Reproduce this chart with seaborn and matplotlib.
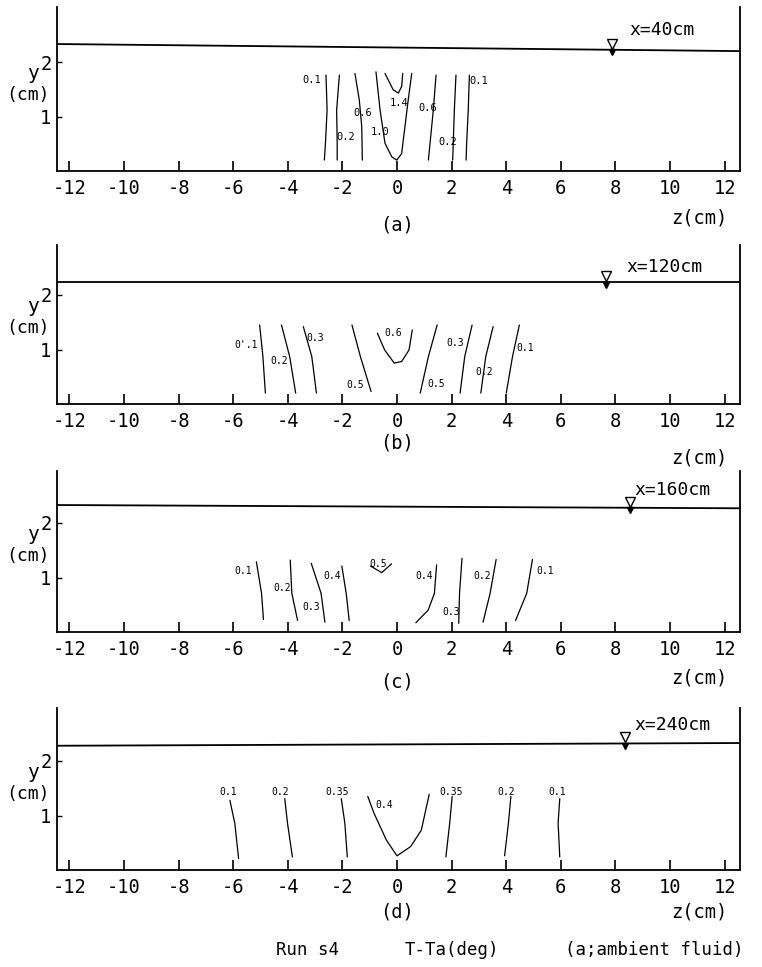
import numpy as np
import pandas as pd
import matplotlib
matplotlib.use("Agg")
import matplotlib.pyplot as plt
import seaborn as sns

# panel info
panel_tags = ["(a)", "(b)", "(c)", "(d)"]
station_labels = ["x=40cm", "x=120cm", "x=160cm", "x=240cm"]
station_pos = [(8.5, 2.59), (8.4, 2.51), (8.7, 2.60), (8.7, 2.66)]
marker_z = [7.88, 7.66, 8.53, 8.35]
surface_left = [2.33, 2.24, 2.33, 2.28]
surface_right = [2.20, 2.24, 2.27, 2.33]
z_ticks = list(range(-12, 13, 2))
y_ticks = [1, 2]

# contour polylines: (label, z points, y points)
contours_a = [
    ("0.1", [-2.60, -2.56, -2.62, -2.66], [1.76, 1.12, 0.51, 0.20]),
    ("0.2", [-2.11, -2.21, -2.19, -2.19], [1.76, 1.12, 0.51, 0.20]),
    ("0.6", [-1.54, -1.38, -1.29, -1.27], [1.79, 1.30, 0.81, 0.20]),
    ("1.0", [-0.77, -0.62, -0.44, -0.19, -0.01, 0.17, 0.29, 0.41, 0.54],
            [1.82, 1.12, 0.51, 0.26, 0.20, 0.32, 0.81, 1.30, 1.79]),
    ("1.4", [-0.44, -0.14, 0.05, 0.17, 0.21], [1.79, 1.49, 1.43, 1.55, 1.79]),
    ("0.6r", [1.43, 1.33, 1.21, 1.15], [1.76, 1.12, 0.51, 0.20]),
    ("0.2r", [2.16, 2.10, 2.06, 2.04], [1.76, 1.12, 0.51, 0.20]),
    ("0.1r", [2.65, 2.61, 2.55, 2.53], [1.76, 1.12, 0.51, 0.20]),
]
labels_a = [("0.1", -3.12, 1.67), ("0.2", -1.88, 0.63), ("0.6", -1.24, 1.06),
            ("1.0", -0.62, 0.72), ("1.4", 0.08, 1.25), ("0.6", 1.14, 1.15),
            ("0.2", 1.87, 0.54), ("0.1", 3.00, 1.66)]

contours_b = [
    ("0.1", [-5.03, -4.91, -4.82], [1.45, 0.87, 0.20]),
    ("0.2", [-4.23, -3.93, -3.71], [1.45, 0.87, 0.20]),
    ("0.3", [-3.43, -3.12, -2.95], [1.42, 0.87, 0.20]),
    ("0.5", [-1.65, -1.34, -0.95], [1.45, 0.87, 0.23]),
    ("0.6", [-0.72, -0.45, -0.10, 0.17, 0.44, 0.56], [1.30, 0.99, 0.75, 0.78, 0.99, 1.36]),
    ("0.5r", [1.47, 1.15, 0.85], [1.45, 0.87, 0.20]),
    ("0.3r", [2.75, 2.48, 2.31], [1.45, 0.87, 0.20]),
    ("0.2r", [3.52, 3.25, 3.07], [1.42, 0.87, 0.20]),
    ("0.1r", [4.48, 4.23, 4.00], [1.45, 0.87, 0.20]),
]
labels_b = [("0'.1", -5.53, 1.08), ("0.2", -4.32, 0.78), ("0.3", -3.00, 1.21),
            ("0.5", -1.52, 0.35), ("0.6", -0.15, 1.30), ("0.5", 1.42, 0.37),
            ("0.3", 2.12, 1.12), ("0.2", 3.19, 0.59), ("0.1", 4.71, 1.02)]

contours_c = [
    ("0.1", [-5.15, -4.96, -4.89], [1.29, 0.71, 0.23]),
    ("0.2", [-3.91, -3.85, -3.64], [1.32, 0.71, 0.21]),
    ("0.3", [-3.14, -2.78, -2.64], [1.26, 0.71, 0.18]),
    ("0.4", [-2.02, -1.86, -1.75], [1.21, 0.71, 0.21]),
    ("0.5", [-0.97, -0.56, -0.20], [1.21, 1.09, 1.25]),
    ("0.4r", [1.45, 1.37, 1.14, 0.69], [1.23, 0.71, 0.40, 0.17]),
    ("0.3r", [2.38, 2.29, 2.26], [1.35, 0.71, 0.16]),
    ("0.2r", [3.63, 3.41, 3.15], [1.33, 0.71, 0.18]),
    ("0.1r", [4.96, 4.75, 4.34], [1.33, 0.71, 0.21]),
]
labels_c = [("0.1", -5.64, 1.12), ("0.2", -4.21, 0.80), ("0.3", -3.15, 0.46),
            ("0.4", -2.38, 1.03), ("0.5", -0.70, 1.25), ("0.4", 1.00, 1.03),
            ("0.3", 1.98, 0.37), ("0.2", 3.13, 1.02), ("0.1", 5.44, 1.12)]

contours_d = [
    ("0.1", [-6.12, -5.94, -5.80], [1.28, 0.86, 0.21]),
    ("0.2", [-4.11, -4.01, -3.83], [1.31, 0.86, 0.24]),
    ("0.35", [-2.04, -1.91, -1.82], [1.31, 0.86, 0.24]),
    ("0.4", [-1.07, -0.84, -0.39, 0.0, 0.50, 0.89, 1.18], [1.35, 1.04, 0.55, 0.26, 0.43, 0.73, 1.39]),
    ("0.35r", [2.02, 1.93, 1.79], [1.35, 0.86, 0.24]),
    ("0.2r", [4.17, 4.08, 3.94], [1.35, 0.86, 0.26]),
    ("0.1r", [5.96, 5.90, 5.96], [1.31, 0.86, 0.24]),
]
labels_d = [("0.1", -6.17, 1.43), ("0.2", -4.29, 1.43), ("0.35", -2.18, 1.43),
            ("0.4", -0.48, 1.19), ("0.35", 1.97, 1.43), ("0.2", 3.99, 1.43),
            ("0.1", 5.87, 1.43)]

all_contours = [contours_a, contours_b, contours_c, contours_d]
all_labels = [labels_a, labels_b, labels_c, labels_d]

sns.set_style("ticks")
mono = ["DejaVu Sans Mono"]
plt.rcParams["font.family"] = mono
plt.rcParams["text.color"] = "black"
plt.rcParams["xtick.color"] = "black"
plt.rcParams["ytick.color"] = "black"

W, H = 762, 967
fig = plt.figure(figsize=(W / 100, H / 100), dpi=100)

# pixel layout of each panel: top, bottom (y=0 line)
tops = [7, 245, 471, 708]
bottoms = [171, 404, 632, 870]
px_per_y = 54.5
left_px, right_px = 57, 740
tag_off = [54, 39, 50, 42]
zlab_off = [47, 54, 46, 42]
xlim = (-12.45, 12.56)

for i in range(4):
    t, b = tops[i], bottoms[i]
    ax = fig.add_axes([left_px / W, 1 - b / H, (right_px - left_px) / W, (b - t) / H])
    ax.set_xlim(*xlim)
    ax.set_ylim(0, (b - t) / px_per_y)

    rows = []
    for name, zs, ys in all_contours[i]:
        for k, (zz, yy) in enumerate(zip(zs, ys)):
            rows.append({"line": name, "order": k, "z": zz, "y": yy})
    df = pd.DataFrame(rows)
    sns.lineplot(data=df, x="z", y="y", units="line", estimator=None, sort=False,
                 color="black", lw=0.9, ax=ax, legend=False)

    for txt, zz, yy in all_labels[i]:
        ax.text(zz, yy, txt, fontsize=7 if i else 7.5, ha="center", va="center")

    # free surface
    ax.plot(xlim, [surface_left[i], surface_right[i]], color="black", lw=1.3)
    sy = np.interp(marker_z[i], xlim, [surface_left[i], surface_right[i]])
    ax.plot([marker_z[i]], [sy + 0.11], marker="v", ms=7, mfc="white", mec="black", mew=1)
    ax.plot([marker_z[i]], [sy - 0.05], marker="v", ms=4.5, color="black")

    ax.text(station_pos[i][0], station_pos[i][1], station_labels[i], fontsize=13,
            ha="left", va="center")

    ax.set_xticks(z_ticks)
    ax.set_xticklabels([str(v) for v in z_ticks])
    ax.set_yticks(y_ticks)
    ax.set_yticklabels([str(v) for v in y_ticks])
    ax.tick_params(axis="x", direction="in", length=7, width=1.2, pad=6, labelsize=13.5)
    ax.tick_params(axis="y", direction="in", length=3.5, width=1.0, pad=4, labelsize=13.5)
    ax.set_xlabel("")
    ax.set_ylabel("")
    for s in ["left", "right", "bottom"]:
        ax.spines[s].set_linewidth(1.3)
        ax.spines[s].set_color("black")
    ax.spines["top"].set_visible(False)

    ax.text(-0.035, 1.78, "y", transform=ax.get_yaxis_transform(), fontsize=14,
            ha="center", va="center")
    ax.text(-0.042, 1.39, "(cm)", transform=ax.get_yaxis_transform(), fontsize=13,
            ha="center", va="center")
    ax.annotate(panel_tags[i], xy=(0.0, 0), xycoords=("data", "axes fraction"),
                xytext=(0, -tag_off[i] * 0.72), textcoords="offset points",
                ha="center", va="center", fontsize=13.5)
    ax.annotate("z(cm)", xy=(0.982, 0), xycoords="axes fraction",
                xytext=(0, -zlab_off[i] * 0.72), textcoords="offset points",
                ha="right", va="center", fontsize=13.5)

fig.text(276 / W, 1 - 950 / H, "Run s4", fontsize=12.5, ha="left", va="center")
fig.text(405 / W, 1 - 950 / H, "T-Ta(deg)", fontsize=12.5, ha="left", va="center")
fig.text(565 / W, 1 - 950 / H, "(a;ambient fluid)", fontsize=12.5, ha="left", va="center")

fig.savefig("out.png", dpi=100)
